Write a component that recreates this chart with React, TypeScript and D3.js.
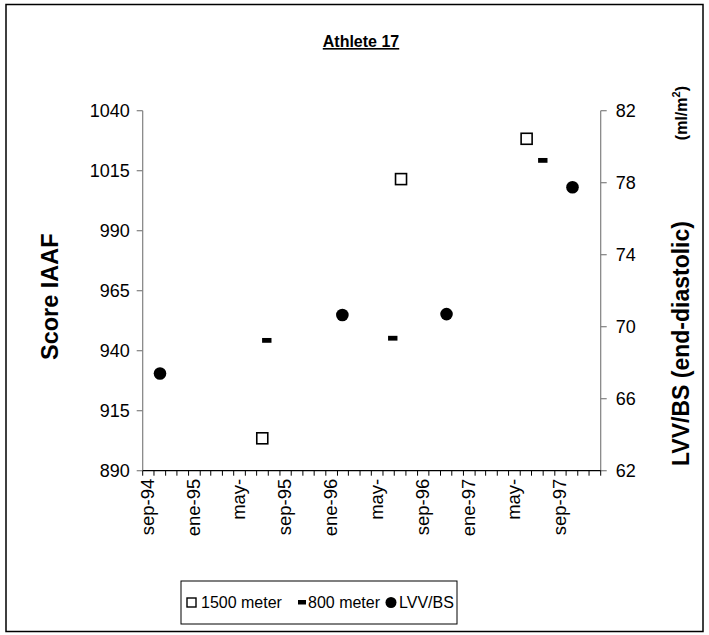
import React from "react";
import * as d3 from "d3";

// Series: dates of the measurements and their values
const lvvDates = ["1994-10-17", "1996-02-14", "1996-11-17", "1997-10-18"];
const lvvValues = [67.4, 70.65, 70.7, 77.75];

const m1500Dates = ["1995-07-16", "1996-07-19", "1997-06-18"];
const m1500Values = [903.5, 1011.5, 1028.3];

const m800Dates = ["1995-07-28", "1996-06-27", "1997-07-31"];
const m800Values = [944.3, 945.2, 1019.3];

const leftTicks = [890, 915, 940, 965, 990, 1015, 1040];
const rightTicks = [62, 66, 70, 74, 78, 82];
const xTickLabels = ["sep-94", "ene-95", "may-", "sep-95", "ene-96", "may-", "sep-96", "ene-97", "may-", "sep-97"];

const W = 709;
const H = 635;
const FONT = "Arial, 'Liberation Sans', sans-serif";

export default function App() {
  const parse = d3.utcParse("%Y-%m-%d");
  const start = parse("1994-09-01")!;
  const end = parse("1998-01-01")!;

  const x = d3.scaleUtc().domain([start, end]).range([142.7, 600.7]);
  const yL = d3.scaleLinear().domain([890, 1040]).range([470.7, 110.7]);
  const yR = d3.scaleLinear().domain([62, 82]).range([470.7, 110.7]);

  const minorTicks = d3.utcMonth.range(start, d3.utcDay.offset(end, 1));
  const majorTicks = d3.utcMonth.every(4)!.range(start, end);

  const [x0, x1] = x.range();
  const [yBottom, yTop] = yL.range();

  return (
    <svg
      width={W}
      height={H}
      style={{ position: "absolute", left: 0, top: 0, background: "#fff" }}
      fontFamily={FONT}
    >
      <rect x={0} y={0} width={W} height={H} fill="#fff" />
      {/* chart frame */}
      <rect x={6} y={4.5} width={697} height={627} fill="none" stroke="#000" strokeWidth={1.5} />

      {/* title */}
      <text x={361} y={47} textAnchor="middle" fontSize={16} fontWeight="bold" textDecoration="underline">
        Athlete 17
      </text>

      {/* left axis */}
      <line x1={x0} x2={x0} y1={yTop} y2={yBottom} stroke="#808080" strokeWidth={1.2} />
      {leftTicks.map((t) => (
        <g key={"l" + t}>
          <line x1={x0 - 6} x2={x0} y1={yL(t)} y2={yL(t)} stroke="#808080" strokeWidth={1.2} />
          <text x={x0 - 13} y={yL(t)} dy="0.35em" textAnchor="end" fontSize={18}>
            {t}
          </text>
        </g>
      ))}
      <text
        transform={`translate(58,${(yTop + yBottom) / 2 + 6}) rotate(-90)`}
        textAnchor="middle"
        fontSize={23.5}
        fontWeight="bold"
      >
        Score IAAF
      </text>

      {/* right axis */}
      <line x1={x1} x2={x1} y1={yTop} y2={yBottom} stroke="#808080" strokeWidth={1.2} />
      {rightTicks.map((t) => (
        <g key={"r" + t}>
          <line x1={x1} x2={x1 + 6} y1={yR(t)} y2={yR(t)} stroke="#808080" strokeWidth={1.2} />
          <text x={x1 + 15} y={yR(t)} dy="0.35em" textAnchor="start" fontSize={18}>
            {t}
          </text>
        </g>
      ))}
      <text transform={`translate(689,466) rotate(-90)`} textAnchor="start" fontSize={23} fontWeight="bold">
        LVV/BS (end-diastolic)
      </text>
      <text transform={`translate(687,86) rotate(-90)`} textAnchor="end" fontSize={16} fontWeight="bold">
        (ml/m
        <tspan dy={-7} fontSize={11}>2</tspan>
        <tspan dy={7}>)</tspan>
      </text>

      {/* bottom axis */}
      <line x1={x0} x2={x1} y1={yBottom} y2={yBottom} stroke="#000" strokeWidth={1.2} />
      {minorTicks.map((d, i) => (
        <line key={"m" + i} x1={x(d)} x2={x(d)} y1={yBottom} y2={yBottom + 5} stroke="#000" strokeWidth={1} />
      ))}
      {majorTicks.map((d, i) => (
        <text
          key={"xl" + i}
          transform={`translate(${x(d) + 5},${yBottom + 8}) rotate(-90)`}
          textAnchor="end"
          dy="0.35em"
          fontSize={18.5}
        >
          {xTickLabels[i]}
        </text>
      ))}

      {/* 1500 meter: open squares */}
      {m1500Dates.map((d, i) => (
        <rect
          key={"s" + i}
          x={x(parse(d)!) - 5.5}
          y={yL(m1500Values[i]) - 5.5}
          width={11}
          height={11}
          fill="#fff"
          stroke="#000"
          strokeWidth={1.6}
        />
      ))}
      {/* 800 meter: short bars */}
      {m800Dates.map((d, i) => (
        <rect
          key={"d" + i}
          x={x(parse(d)!) - 4.7}
          y={yL(m800Values[i]) - 2.4}
          width={9.4}
          height={4.8}
          fill="#000"
        />
      ))}
      {/* LVV/BS: filled circles on the right axis */}
      {lvvDates.map((d, i) => (
        <circle key={"c" + i} cx={x(parse(d)!)} cy={yR(lvvValues[i])} r={6.3} fill="#000" />
      ))}

      {/* legend */}
      <rect x={181} y={581} width={276} height={43} fill="#fff" stroke="#000" strokeWidth={1} />
      <rect x={187} y={598} width={9} height={9} fill="#fff" stroke="#000" strokeWidth={1.4} />
      <text x={201} y={608} fontSize={16}>1500 meter</text>
      <rect x={298} y={600} width={8} height={4.5} fill="#000" />
      <text x={308} y={608} fontSize={16}>800 meter</text>
      <circle cx={391} cy={602.5} r={5.5} fill="#000" />
      <text x={399} y={608} fontSize={16}>LVV/BS</text>
    </svg>
  );
}
